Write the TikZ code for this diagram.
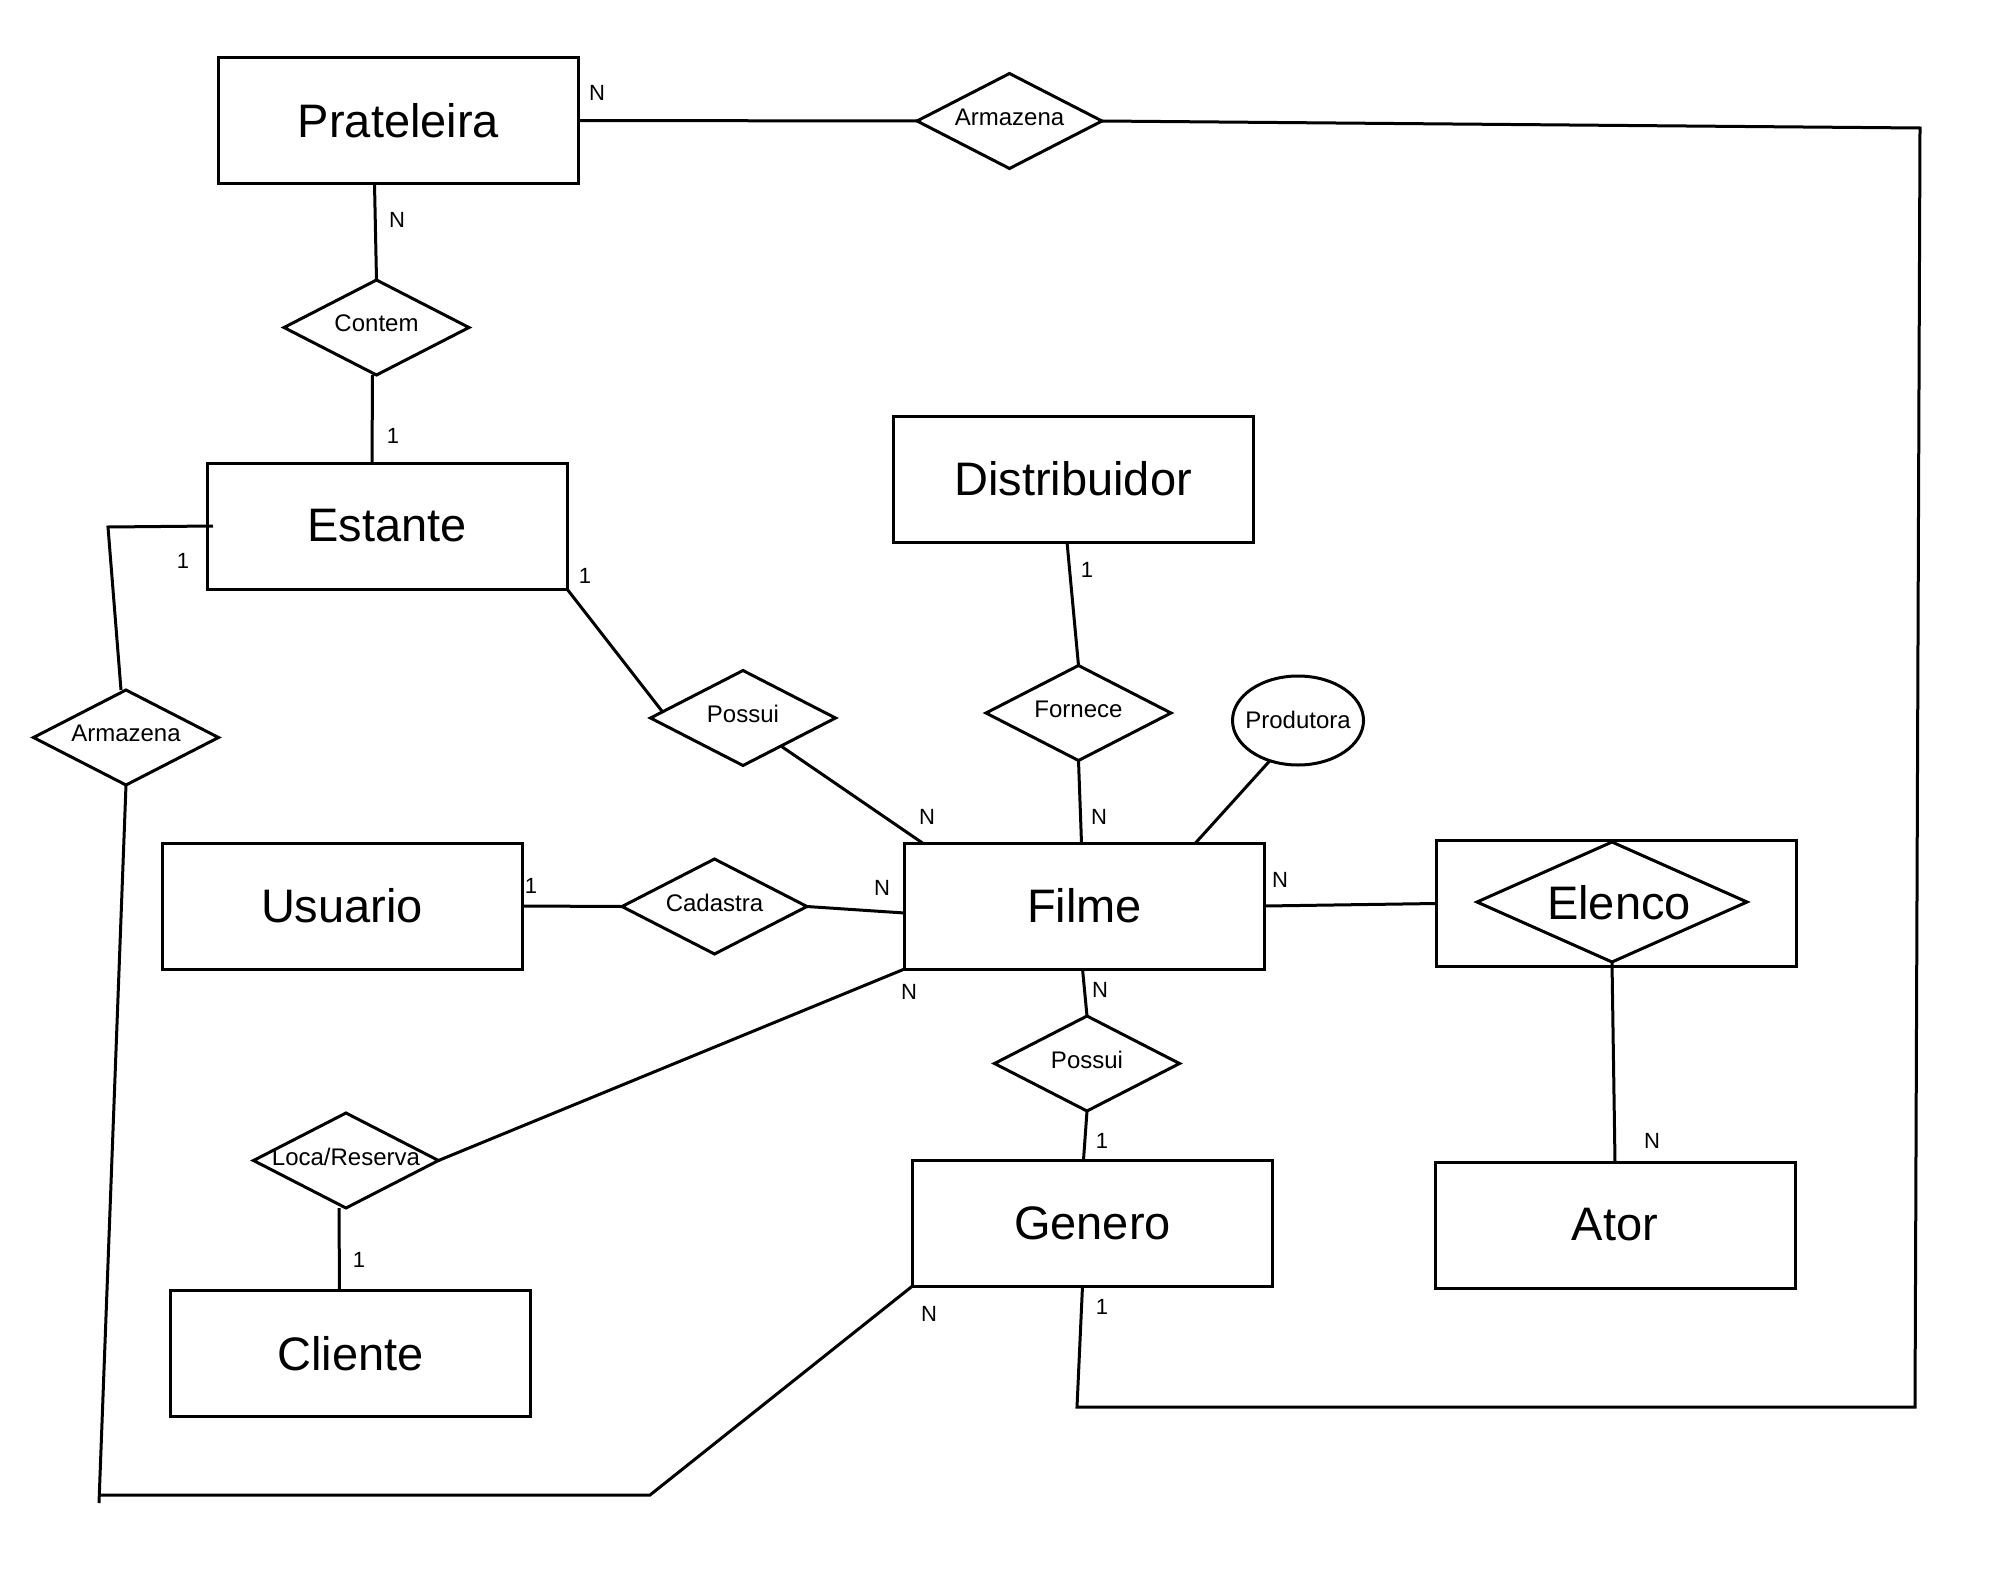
\documentclass[tikz,border=0pt]{standalone}
\usepackage{fontspec}
\setmainfont{Liberation Sans}
\usetikzlibrary{shapes.geometric,calc}
\begin{document}
\begin{tikzpicture}[x=1pt,y=-1pt,line width=3pt,
  entity/.style={draw, rectangle, minimum width=360pt, minimum height=126pt, inner sep=0pt, outer sep=0pt, font=\fontsize{47}{56}\selectfont},
  rel/.style={draw, diamond, minimum width=185pt, minimum height=95pt, inner sep=0pt, outer sep=0pt,
    label={[font=\fontsize{24}{28}\selectfont, inner sep=0pt, yshift=4pt]center:#1}},
  card/.style={font=\fontsize{22}{26}\selectfont, inner sep=0pt}
]
\fill[white] (0,0) rectangle (2000,1576);
\useasboundingbox (0,0) rectangle (2000,1576);

% entities
\node[entity] (prat) at (398.5,120.5) {Prateleira};
\node[entity] (estante) at (387,526) {Estante};
\node[entity] (dist) at (1073,479) {Distribuidor};
\node[entity] (usuario) at (342,906) {Usuario};
\node[entity] (filme) at (1084.5,906) {Filme};
\node[entity] (elenco) at (1616.5,903.5) {};
\node[draw, diamond, minimum width=270pt, minimum height=120pt, inner sep=0pt, outer sep=0pt,
  font=\fontsize{47}{56}\selectfont] (elencod) at (1612,902) {};
\node[font=\fontsize{47}{56}\selectfont, inner sep=0pt] (elencot) at (1619,903) {Elenco};
\node[entity] (genero) at (1092.5,1223) {Genero};
\node[entity] (ator) at (1615,1225) {Ator};
\node[entity] (cliente) at (350.5,1353.5) {Cliente};

% relationships
\node[rel=Armazena] (armT) at (1009.5,121) {};
\node[rel=Contem] (contem) at (376.5,327.5) {};
\node[rel=Armazena] (armL) at (126,737.5) {};
\node[rel=Possui] (possU) at (743,718) {};
\node[rel=Fornece] (fornece) at (1078.5,713) {};
\node[rel=Cadastra] (cadastra) at (714.5,906.5) {};
\node[rel=Loca/Reserva] (loca) at (346,1160.5) {};
\node[rel=Possui] (possL) at (1087,1063.5) {};

% attribute
\node[draw, ellipse, minimum width=131pt, minimum height=89pt, inner sep=0pt, outer sep=0pt,
  label={[font=\fontsize{24}{28}\selectfont, inner sep=0pt, yshift=1pt]center:Produtora}] (prod) at (1298,720.5) {};

% corner coordinates
\coordinate (c1) at (1920,128);
\coordinate (c2) at (1915,1407);
\coordinate (c3) at (1077,1407);
\coordinate (c4) at (108,527);
\coordinate (c5) at (99,1503);
\coordinate (c6) at (99,1495);
\coordinate (c7) at (650,1495);

% connectors
\draw (prat.east) -- (armT.west);
\draw (armT.east) -- (c1) -- (c2) -- (c3) -- ([xshift=-10pt]genero.south);
\draw ([xshift=-24pt]prat.south) -- (contem.north);
\draw ([xshift=-4pt]contem.south) -- ([xshift=-15pt]estante.north);
\draw ([xshift=6pt]estante.west) -- (c4) -- ([xshift=-5pt]armL.north);
\draw (armL.south) -- (c5);
\draw (c6) -- (c7) -- (genero.south west);
\draw (estante.south east) -- ($(possU.west)!0.13!(possU.north)$);
\draw ($(possU.south)!0.41!(possU.east)$) -- ([xshift=18pt]filme.north west);
\draw ([xshift=-6pt]dist.south) -- (fornece.north);
\draw (fornece.south) -- ([xshift=-3pt]filme.north);
\draw (prod.-125) -- ([xshift=111pt]filme.north);
\draw (usuario.east) -- (cadastra.west);
\draw (cadastra.east) -- ([yshift=-7pt]filme.west);
\draw (filme.south west) -- (loca.east);
\draw ([xshift=-7pt]loca.south) -- ([xshift=-11pt]cliente.north);
\draw ([xshift=-2pt]filme.south) -- (possL.north);
\draw (possL.south) -- ([xshift=-9pt]genero.north);
\draw (filme.east) -- (elenco.west);
\draw (elencod.south) -- (ator.north);

% cardinalities
\node[card] (k1) at (597,93) {N};
\node[card] (k2) at (397,220) {N};
\node[card] (k3) at (393,436) {1};
\node[card] (k4) at (183,561) {1};
\node[card] (k5) at (585,576) {1};
\node[card] (k6) at (1087,570) {1};
\node[card] (k7) at (927,817) {N};
\node[card] (k8) at (1099,817) {N};
\node[card] (k9) at (531,886) {1};
\node[card] (k10) at (882,888) {N};
\node[card] (k11) at (1280,880) {N};
\node[card] (k12) at (909,992) {N};
\node[card] (k13) at (1100,990) {N};
\node[card] (k14) at (1102,1141) {1};
\node[card] (k15) at (1652,1141) {N};
\node[card] (k16) at (359,1260) {1};
\node[card] (k17) at (929,1314) {N};
\node[card] (k18) at (1102,1307) {1};
\end{tikzpicture}
\end{document}
